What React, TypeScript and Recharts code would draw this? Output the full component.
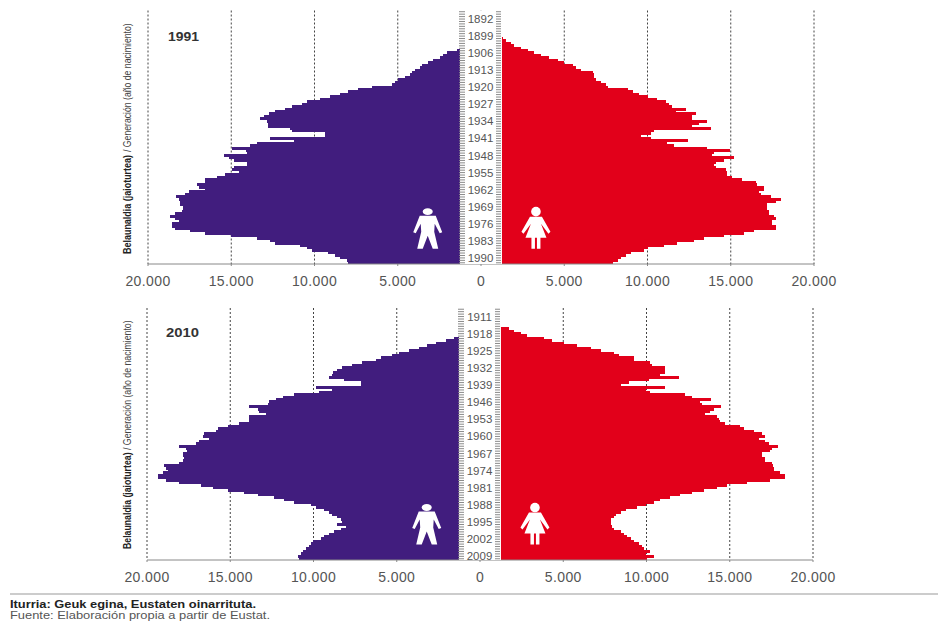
import React from "react";
import { BarChart, Bar, XAxis, YAxis, CartesianGrid, ReferenceArea, ReferenceDot } from "recharts";

const PURPLE = "#411d7e";
const RED = "#e2001a";

const startYear1991 = 1889;
const male1991 = [
  0, 0, 0, 10, 20, 30, 50, 80, 120, 180, 250, 340, 450, 600, 780, 1000,
  1460, 2060, 2260, 2460, 2860, 3160, 3560, 3660, 3960, 4160, 4260, 4560, 4960, 5160, 5360,
  6560, 7360, 7960, 8460, 9060, 9660, 10460, 10760, 11360, 11760, 12360, 12760, 13060, 13260,
  12860, 12820, 12820, 11460, 11360, 9360, 9360, 12660, 11260, 13460, 13860, 14960,
  14100, 14060, 15460, 15160, 14860, 14060, 14060, 14860, 14960, 14560, 15360, 15860, 16560, 16560,
  17060, 16960, 16560, 17560, 17760, 18320, 18160, 18060, 18100, 17900, 17900, 17960, 18360, 18660,
  18360, 18160, 18560, 18560, 18360, 17460, 16560, 15000, 13460, 12660, 12360, 10860, 10460, 10160,
  9160, 8760, 8460, 8060, 7960,
];
const female1991 = [
  0, 0, 0, 20, 40, 70, 110, 180, 300, 500, 800,
  1300, 1500, 1800, 2000, 2400, 2800, 3200, 3600, 4100, 4600, 5000, 5500, 5700, 6000, 6700, 6760, 6800,
  6900, 7200, 7500, 7600, 8800, 9100, 9500, 10000, 10600, 11100, 11300, 11500, 12300, 11700, 12900, 12700,
  12700, 13600, 13100, 12700, 13800, 10400, 10200, 9600, 10200, 12440, 11200, 11600, 13600, 14960,
  14000, 13900, 15200, 14600, 14100, 14000, 14100, 14700, 14800, 14800, 15100, 15700, 16500, 16560,
  17000, 17000, 16700, 16800, 17400, 18000, 17700, 17200, 17200, 17200, 17300, 17300, 17600, 17700,
  17500, 17500, 17700, 17700, 16400, 15800, 14600, 13400, 12800, 11800, 11000, 10000, 9800, 9000,
  8700, 8400, 8200, 7900, 7800,
];

const startYear2010 = 1908;
const male2010 = [
  0, 0, 10, 30, 60, 100, 160, 240, 340, 480, 700, 1000,
  1560, 2060, 2660, 3160, 3660, 4260, 4860, 5260, 5960, 6260, 7060, 7660, 8260, 8600, 8800, 8860, 9060,
  8160, 7160, 7160, 9860, 8860, 9660, 11160, 11860, 12260, 12660, 12760, 13860, 13360, 13260, 12860,
  13860, 13860, 13860, 14460, 15160, 15760, 15860, 16560, 16660, 16260, 16860, 17060, 18060, 17660,
  17600, 17860, 17860, 17760, 17860, 18060, 18960, 18860, 18760, 19060, 19360, 19360, 18860, 18060,
  16760, 16060, 15160, 14160, 13360, 12360, 11760, 11160, 10160, 9860, 9360, 9060, 8860, 8560, 8360,
  8260, 8560, 8060, 8360, 8760, 9060, 9360, 9560, 10060, 10160, 10260, 10460, 10660, 10760, 10960, 10860,
];
const female2010 = [
  0, 0, 30, 100, 250, 500, 850,
  1240, 1740, 2040, 2440, 2840, 3840, 4340, 5040, 5840, 6640, 7240, 8040, 8340, 9240, 9240, 10240, 10340,
  11140, 11140, 11100, 10840, 11940, 10140, 8940, 8440, 11140, 9940, 10240, 12340, 12740, 13880, 13240,
  13340, 14480, 14040, 13840, 13540, 14240, 14340, 14440, 14740, 15640, 15840, 16440, 16940, 17140, 16740,
  17140, 17340, 17880, 17540, 17440, 16940, 16940, 17140, 17140, 17540, 17600, 17640, 17640, 18040, 18340,
  18340, 17440, 16040, 14840, 14240, 13440, 12740, 12040, 11440, 10840, 10440, 9940, 9440, 8740, 8440,
  8140, 8040, 7880, 7840, 7840, 7940, 8040, 8440, 8640, 8840, 9040, 9240, 9540, 9740, 9840, 10240, 9940,
  10440, 10040,
];

const xTicks = [-20000, -15000, -10000, -5000, 0, 5000, 10000, 15000, 20000];
const labelledYears1991 = [1892, 1899, 1906, 1913, 1920, 1927, 1934, 1941, 1948, 1955, 1962, 1969, 1976, 1983, 1990];
const labelledYears2010 = [1911, 1918, 1925, 1932, 1939, 1946, 1953, 1960, 1967, 1974, 1981, 1988, 1995, 2002, 2009];

const fmt = (v: number) => {
  const a = Math.abs(v);
  return a === 0 ? "0" : `${Math.floor(a / 1000)}.${String(a % 1000).padStart(3, "0")}`;
};

const buildRows = (start: number, male: number[], female: number[]) =>
  male.map((m, i) => ({ year: start + i, male: -m, female: female[i] ?? 0 }));

// Recharts floors bar thickness to whole pixels; the row is drawn a little taller so the rows touch.
const RowBar = (color: string) => (p: any) => {
  const x = Math.min(p.x, p.x + p.width);
  const w = Math.abs(p.width);
  if (!w) return <g />;
  return <rect x={x} y={p.y - 0.5} width={w} height={p.height + 1} fill={color} shapeRendering="crispEdges" />;
};

const ManIcon = (p: any) => (
  <g transform={`translate(${p.cx},${p.cy})`}>
    <ellipse cx={0} cy={-17} rx={5} ry={3.4} fill="#fff" />
    <polygon fill="#fff" points="-8,-13 8,-13 14.5,3.5 12,4.5 7,-5 6.5,3 10.5,20 5,20 0,7 -5,20 -10.5,20 -6.5,3 -7,-5 -12,4.5 -14.5,3.5" />
  </g>
);
const WomanIcon = (p: any) => (
  <g transform={`translate(${p.cx},${p.cy})`}>
    <circle cx={0} cy={-17} r={4.8} fill="#fff" />
    <polygon fill="#fff" points="-6,-12 6,-12 14.5,3 12.5,5 5,-5 10.5,9 4.5,9 4.5,20 1,20 1,9 -1,9 -1,20 -4.5,20 -4.5,9 -10.5,9 -5,-5 -12.5,5 -14.5,3" />
  </g>
);

const YearTick = (labelled: number[], center: number) => (p: any) => {
  const y = p.y;
  const yr = Number(p.payload.value);
  return (
    <g>
      <line x1={center - 22} x2={center - 16} y1={y} y2={y} stroke="#8a8a8a" strokeWidth={1} />
      <line x1={center + 15} x2={center + 20} y1={y} y2={y} stroke="#8a8a8a" strokeWidth={1} />
      {labelled.includes(yr) && (
        <text x={center - 0.5} y={y + 4} textAnchor="middle" fontSize={11.5} fontFamily="Liberation Sans" fill="#555">{yr}</text>
      )}
    </g>
  );
};

const Pyramid = ({ rows, labelled, left, top, plotTop, plotBottom, iconYear }: any) => {
  const center = left + 333;
  const margin = { left, right: 938 - left - 666, top: plotTop, bottom: 300 - plotBottom - 30 };
  return (
    <div style={{ position: "absolute", left: 0, top, width: 938, height: 300 }}>
      <div style={{ position: "absolute", left: 0, top: 0 }}>
        <BarChart width={938} height={300} data={rows} layout="vertical" stackOffset="sign" barCategoryGap={0} margin={margin}>
          <CartesianGrid horizontal={false} stroke="#444" strokeDasharray="2 2" verticalValues={xTicks} />
          <XAxis
            type="number"
            domain={[-20000, 20000]}
            ticks={xTicks}
            tickFormatter={fmt}
            interval={0}
            height={30}
            stroke="#888"
            tickSize={2}
            tick={{ fontSize: 14, fontFamily: "Liberation Sans", fill: "#555", letterSpacing: 0.4 }}
            tickMargin={10}
          />
          <YAxis type="category" dataKey="year" width={0} hide />
          <Bar dataKey="male" stackId="a" fill={PURPLE} shape={RowBar(PURPLE)} isAnimationActive={false} />
          <Bar dataKey="female" stackId="a" fill={RED} shape={RowBar(RED)} isAnimationActive={false} />
        </BarChart>
      </div>
      <div style={{ position: "absolute", left: 0, top: 0 }}>
        <BarChart width={938} height={300} data={rows} layout="vertical" stackOffset="sign" barCategoryGap={0} margin={{ ...margin, left: left - 1 }}>
          <XAxis type="number" domain={[-20000, 20000]} ticks={xTicks} height={30} axisLine={false} tickLine={false} tick={false} />
          <YAxis
            type="category"
            dataKey="year"
            width={1}
            interval={0}
            axisLine={false}
            tickLine={false}
            tick={YearTick(labelled, center)}
          />
          <Bar dataKey="female" fill="none" stroke="none" isAnimationActive={false} />
          <ReferenceArea x1={-1260} x2={1260} fill="#fff" fillOpacity={1} stroke="none" />
          <ReferenceDot x={-3200} y={iconYear} r={1} shape={ManIcon} />
          <ReferenceDot x={3300} y={iconYear} r={1} shape={WomanIcon} />
        </BarChart>
      </div>
    </div>
  );
};

const rows1991 = buildRows(startYear1991, male1991, female1991);
const rows2010 = buildRows(startYear2010, male2010, female2010);

const YLabel = ({ x, bottom, boldScale, boldLen, regScale }: any) => (
  <>
    <text
      transform={`translate(${x},${bottom}) rotate(-90) scale(${boldScale},1)`}
      fontFamily="Liberation Sans"
      fontWeight="bold"
      fontSize={11.5}
      fill="#222"
    >
      Belaunaldia (jaioturtea)
    </text>
    <text
      transform={`translate(${x},${bottom - boldLen}) rotate(-90) scale(${regScale},1)`}
      fontFamily="Liberation Sans"
      fontSize={11.5}
      fill="#444"
    >
      / Generación (año de nacimiento)
    </text>
  </>
);

export default function App() {
  return (
    <div style={{ position: "absolute", left: 0, top: 0, width: 938, height: 621, background: "#fff", overflow: "hidden" }}>
      <Pyramid rows={rows1991} labelled={labelledYears1991} left={148} top={0} plotTop={10.5} plotBottom={264} iconYear={1978} />
      <Pyramid rows={rows2010} labelled={labelledYears2010} left={147} top={300} plotTop={8} plotBottom={260} iconYear={1996} />
      <svg width={938} height={621} style={{ position: "absolute", left: 0, top: 0, pointerEvents: "none" }}>
        <text x={168} y={41} fontFamily="Liberation Sans" fontWeight="bold" fontSize={12} fill="#333" textLength={31} lengthAdjust="spacingAndGlyphs">1991</text>
        <text x={166} y={337} fontFamily="Liberation Sans" fontWeight="bold" fontSize={12.5} fill="#333" textLength={33} lengthAdjust="spacingAndGlyphs">2010</text>
        <YLabel x={131} bottom={254} boldScale={0.78} boldLen={102} regScale={0.755} />
        <YLabel x={131} bottom={549} boldScale={0.76} boldLen={99} regScale={0.76} />
        <line x1={10} x2={938} y1={594} y2={594} stroke="#999" strokeWidth={1} />
        <text x={10} y={608} fontFamily="Liberation Sans" fontWeight="bold" fontSize={10.5} fill="#222" textLength={246} lengthAdjust="spacingAndGlyphs">Iturria: Geuk egina, Eustaten oinarrituta.</text>
        <text x={10} y={619} fontFamily="Liberation Sans" fontSize={10.5} fill="#555" textLength={260} lengthAdjust="spacingAndGlyphs">Fuente: Elaboración propia a partir de Eustat.</text>
      </svg>
    </div>
  );
}
